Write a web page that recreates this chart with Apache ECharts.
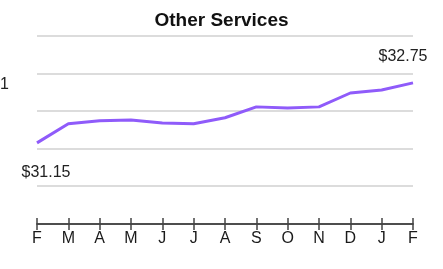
<!DOCTYPE html>
<html>
<head>
<meta charset="utf-8">
<script src="https://cdn.jsdelivr.net/npm/echarts@6/dist/echarts.min.js"></script>
<style>
  html, body { margin: 0; padding: 0; background: #fff; }
  #chart { width: 443px; height: 269px; }
</style>
</head>
<body>
<div id="chart"></div>
<script>
const months = ['F', 'M', 'A', 'M', 'J', 'J', 'A', 'S', 'O', 'N', 'D', 'J', 'F'];
const prices = [31.15, 31.66, 31.74, 31.76, 31.68, 31.66, 31.82, 32.11, 32.08, 32.11, 32.48, 32.56, 32.75];

const font = '"Liberation Sans", Arial, sans-serif';
const last = prices.length - 1;

// only the first and last points get a price label
const points = prices.map((v, i) => {
    if (i === 0) {
        return { value: v, label: { show: true, position: 'bottom', distance: 21, offset: [9, 0] } };
    }
    if (i === last) {
        return { value: v, label: { show: true, position: 'top', distance: 18, offset: [-10, 0] } };
    }
    return v;
});

const axisCommon = {
    type: 'category',
    data: months,
    boundaryGap: false,
    position: 'bottom',
    offset: 38,
    axisLine: { lineStyle: { color: '#444', width: 1.5 } },
    splitLine: { show: false }
};

let myChart = echarts.init(document.getElementById('chart'));
myChart.setOption({
    animation: false,
    title: {
        text: 'Other Services',
        left: 'center',
        top: 6,
        textStyle: { fontFamily: font, fontSize: 19, fontWeight: 'bold', color: '#111' }
    },
    graphic: [{
        type: 'text',
        left: 0,
        top: 77,
        style: { text: '1', font: '16px ' + font, fill: '#222' }
    }],
    grid: { left: 37, right: 30, top: 36, bottom: 83 },
    xAxis: [
        Object.assign({}, axisCommon, {
            axisTick: { show: true, length: 6, lineStyle: { color: '#444', width: 1.5 } },
            axisLabel: { margin: 7, fontFamily: font, fontSize: 16, color: '#1a1a1a' }
        }),
        Object.assign({}, axisCommon, {
            axisTick: { show: true, inside: true, length: 6, lineStyle: { color: '#444', width: 1.5 } },
            axisLabel: { show: false }
        })
    ],
    yAxis: {
        type: 'value',
        min: 30,
        max: 34,
        interval: 1,
        axisLabel: { show: false },
        axisLine: { show: false },
        axisTick: { show: false },
        splitLine: { lineStyle: { color: '#dcdcdc', width: 2 } }
    },
    series: [{
        type: 'line',
        xAxisIndex: 0,
        data: points,
        symbol: 'circle',
        symbolSize: 1,
        showSymbol: true,
        itemStyle: { color: 'rgba(0,0,0,0)' },
        lineStyle: { color: '#8f5bfa', width: 3 },
        label: {
            formatter: (p) => '$' + p.value.toFixed(2),
            fontFamily: font,
            fontSize: 16,
            color: '#222'
        }
    }]
});
</script>
</body>
</html>
